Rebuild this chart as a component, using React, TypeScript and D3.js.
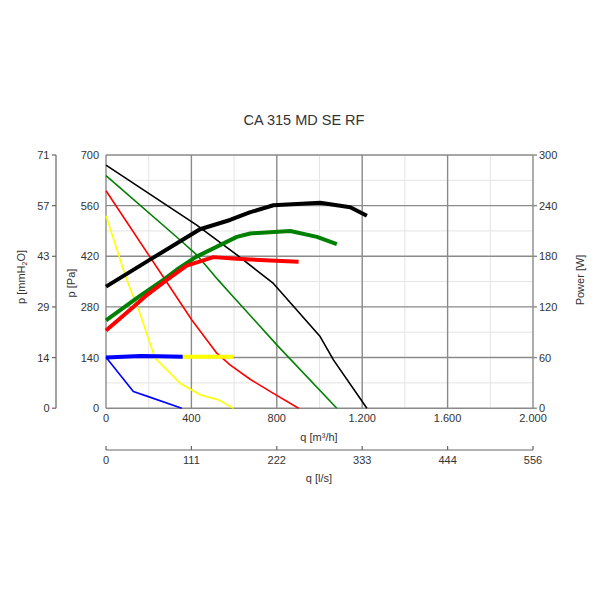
import * as d3 from "d3";

// axis ticks and their printed labels
const flowTicks = [0, 400, 800, 1200, 1600, 2000];
const flowLabels = ["0", "400", "800", "1.200", "1.600", "2.000"];
const flowMinor = [200, 600, 1000, 1400, 1800];
const litreLabels = ["0", "111", "222", "333", "444", "556"];
const pressureTicks = [0, 140, 280, 420, 560, 700];
const pressureMinor = [70, 210, 350, 490, 630];
const mmLabels = ["0", "14", "29", "43", "57", "71"];
const powerTicks = [0, 60, 120, 180, 240, 300];

// pressure curves [q m3/h, p Pa]
const blackPressure: [number, number][] = [[0, 672], [425, 506], [613, 424], [704, 382], [784, 345], [1003, 198], [1066, 133], [1222, 0]];
const greenPressure: [number, number][] = [[0, 643], [347, 465], [425, 424], [526, 354], [581, 318], [800, 175], [1081, 0]];
const redPressure: [number, number][] = [[0, 601], [277, 355], [402, 244], [519, 152], [581, 120], [675, 80], [784, 41], [902, 0]];
const yellowPressure: [number, number][] = [[0, 532], [97, 355], [159, 262], [230, 138], [285, 106], [347, 69], [441, 37], [527, 23], [597, 0]];
const bluePressure: [number, number][] = [[0, 141], [128, 46], [198, 32], [355, 0]];

// power curves [q m3/h, W]
const blackPower: [number, number][] = [[0, 144], [206, 176], [440, 212], [581, 223], [673, 232], [784, 240.5], [1003, 243.5], [1144, 238], [1222, 228]];
const greenPower: [number, number][] = [[0, 104], [159, 133], [269, 152], [331, 164], [420, 179], [613, 203], [675, 207], [863, 210], [988, 203], [1081, 194.5]];
const redPower: [number, number][] = [[0, 92], [128, 120], [191, 134], [285, 152], [378, 169], [503, 179], [613, 177], [902, 173.5]];
const bluePower: [number, number][] = [[0, 60], [160, 61.8], [250, 61.5], [359, 61]];
const yellowPower: [number, number][] = [[359, 61], [597, 61]];

const pressureSeries = [
  { color: "#000000", data: blackPressure },
  { color: "#008000", data: greenPressure },
  { color: "#ff0000", data: redPressure },
  { color: "#ffff00", data: yellowPressure },
  { color: "#0000ff", data: bluePressure },
];
const powerSeries = [
  { color: "#000000", data: blackPower },
  { color: "#008000", data: greenPower },
  { color: "#ff0000", data: redPower },
  { color: "#ffff00", data: yellowPower },
  { color: "#0000ff", data: bluePower },
];

const LEFT = 106;
const RIGHT = 533;
const TOP = 155;
const BOTTOM = 408.2;
const FONT = "Liberation Sans, Arial, sans-serif";
const TEXT = "#333";

export default function App() {
  const x = d3.scaleLinear().domain([0, 2000]).range([LEFT, RIGHT]);
  const yP = d3.scaleLinear().domain([0, 700]).range([BOTTOM, TOP]);
  const yW = d3.scaleLinear().domain([0, 300]).range([BOTTOM, TOP]);

  const lineP = d3.line<[number, number]>().x((d) => x(d[0])).y((d) => yP(d[1]));
  const lineW = d3.line<[number, number]>().x((d) => x(d[0])).y((d) => yW(d[1]));

  return (
    <svg width={600} height={600} style={{ position: "absolute", left: 0, top: 0, background: "#fff" }} fontFamily={FONT}>
      <text x={304} y={125} textAnchor="middle" fontSize={14.5} fill={TEXT}>
        CA 315 MD SE RF
      </text>

      {/* minor grid */}
      {flowMinor.map((q) => (
        <line key={"vm" + q} x1={x(q)} x2={x(q)} y1={TOP} y2={BOTTOM} stroke="#e4e4e4" strokeWidth={1} />
      ))}
      {pressureMinor.map((p) => (
        <line key={"hm" + p} x1={LEFT} x2={RIGHT} y1={yP(p)} y2={yP(p)} stroke="#e4e4e4" strokeWidth={1} />
      ))}
      {/* major grid */}
      {flowTicks.map((q) => (
        <line key={"v" + q} x1={x(q)} x2={x(q)} y1={TOP} y2={BOTTOM} stroke="#8a8a8a" strokeWidth={1.4} />
      ))}
      {pressureTicks.map((p) => (
        <line key={"h" + p} x1={LEFT} x2={RIGHT} y1={yP(p)} y2={yP(p)} stroke="#8a8a8a" strokeWidth={1.4} />
      ))}

      {/* Pa axis */}
      {pressureTicks.map((p) => (
        <text key={"pl" + p} x={99} y={yP(p) + 4} textAnchor="end" fontSize={11} fill={TEXT}>
          {p}
        </text>
      ))}
      <text transform={`translate(75,283) rotate(-90)`} textAnchor="middle" fontSize={11} fill={TEXT}>
        p [Pa]
      </text>

      {/* mmH2O axis */}
      <line x1={56} x2={56} y1={TOP} y2={BOTTOM} stroke="#666" strokeWidth={1.2} />
      {pressureTicks.map((p, i) => (
        <g key={"mm" + p}>
          <line x1={52} x2={56} y1={yP(p)} y2={yP(p)} stroke="#666" strokeWidth={1.2} />
          <text x={49.5} y={yP(p) + 4} textAnchor="end" fontSize={11} fill={TEXT}>
            {mmLabels[i]}
          </text>
        </g>
      ))}
      <text transform={`translate(25,277) rotate(-90)`} textAnchor="middle" fontSize={11} fill={TEXT}>
        p [mmH<tspan fontSize={7} dy={2}>2</tspan><tspan dy={-2}>O]</tspan>
      </text>

      {/* Power axis */}
      {powerTicks.map((w) => (
        <g key={"w" + w}>
          <line x1={RIGHT} x2={RIGHT + 4} y1={yW(w)} y2={yW(w)} stroke="#8a8a8a" strokeWidth={1.4} />
          <text x={539} y={yW(w) + 4} fontSize={11} fill={TEXT}>
            {w}
          </text>
        </g>
      ))}
      <text transform={`translate(584,280) rotate(-90)`} textAnchor="middle" fontSize={11} fill={TEXT}>
        Power [W]
      </text>

      {/* m3/h axis */}
      {flowTicks.map((q, i) => (
        <text key={"fl" + q} x={x(q)} y={422} textAnchor="middle" fontSize={11} fill={TEXT}>
          {flowLabels[i]}
        </text>
      ))}
      <text x={319} y={441} textAnchor="middle" fontSize={11} fill={TEXT}>
        q [m³/h]
      </text>

      {/* l/s axis */}
      <line x1={LEFT} x2={RIGHT} y1={450} y2={450} stroke="#666" strokeWidth={1.2} />
      {flowTicks.map((q, i) => (
        <g key={"ls" + q}>
          <line x1={x(q)} x2={x(q)} y1={446} y2={450} stroke="#666" strokeWidth={1.2} />
          <text x={x(q)} y={464} textAnchor="middle" fontSize={11} fill={TEXT}>
            {litreLabels[i]}
          </text>
        </g>
      ))}
      <text x={319} y={482} textAnchor="middle" fontSize={11} fill={TEXT}>
        q [l/s]
      </text>

      {/* curves */}
      {pressureSeries.map((s, i) => (
        <path key={"ps" + i} d={lineP(s.data) ?? ""} fill="none" stroke={s.color} strokeWidth={1.6} strokeLinejoin="round" />
      ))}
      {powerSeries.map((s, i) => (
        <path key={"ws" + i} d={lineW(s.data) ?? ""} fill="none" stroke={s.color} strokeWidth={4} strokeLinejoin="round" />
      ))}
    </svg>
  );
}
